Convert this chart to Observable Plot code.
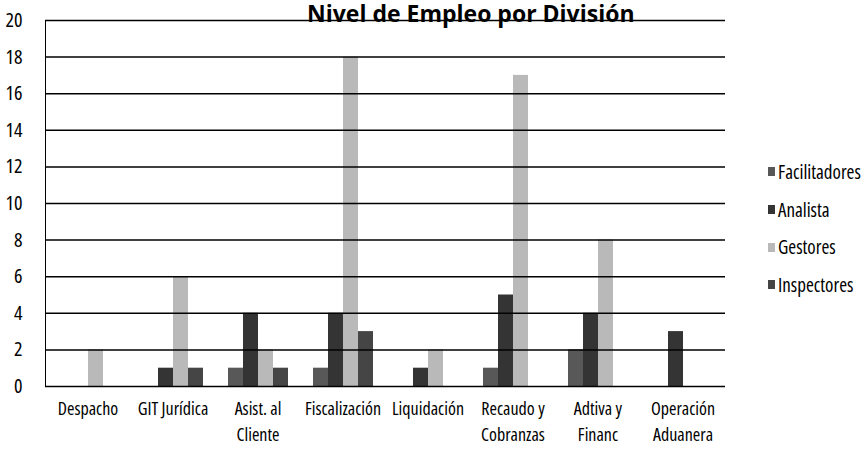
<!DOCTYPE html>
<html><head><meta charset="utf-8">
<script src="https://cdn.jsdelivr.net/npm/d3@7"></script>
<script src="https://cdn.jsdelivr.net/npm/@observablehq/plot@0.6"></script>
<style>
body{margin:0;background:#fff;}
#wrap{position:relative;width:865px;height:471px;overflow:hidden;font-family:"Open Sans",sans-serif;font-stretch:80%;}
#title{position:absolute;left:307px;top:2px;font-size:23px;font-weight:bold;line-height:1;color:#000;white-space:nowrap;font-stretch:88%;}
#legend{position:absolute;left:768px;top:153px;font-size:19px;color:#000;}
#legend .item{height:37.7px;display:flex;align-items:center;line-height:24px;}
#legend .sw{width:7px;height:9px;margin-right:3px;}
</style></head><body>
<div id="wrap"><div id="chart"></div><div id="title">Nivel de Empleo por División</div><div id="legend"></div></div>
<script>
const categories = ["Despacho","GIT Jurídica","Asist. al Cliente","Fiscalización","Liquidación","Recaudo y Cobranzas","Adtiva y Financ","Operación Aduanera"];
const categoryLabels = ["Despacho","GIT Jurídica","Asist. al\nCliente","Fiscalización","Liquidación","Recaudo y\nCobranzas","Adtiva y\nFinanc","Operación\nAduanera"];
const series = ["Facilitadores","Analista","Gestores","Inspectores"];
const facilitadores = [0,0,1,1,0,1,2,0];
const analista      = [0,1,4,4,1,5,4,3];
const gestores      = [2,6,2,18,2,17,8,0];
const inspectores   = [0,1,1,3,0,0,0,0];
const yTicks = [0,2,4,6,8,10,12,14,16,18,20];
const colors = ["#585858","#343434","#b9b9b9","#454545"];

const valuesBySeries = [facilitadores, analista, gestores, inspectores];
const rows = [];
categories.forEach((c,i)=>series.forEach((s,j)=>rows.push({category:c, series:s, value:valuesBySeries[j][i]})));
const labelOf = new Map(categories.map((c,i)=>[c,categoryLabels[i]]));

const chart = Plot.plot({
  width: 730, height: 471,
  marginLeft: 45, marginRight: 5, marginTop: 20, marginBottom: 85,
  style: {fontFamily: '"Open Sans",sans-serif', fontStretch: "80%", background: "#fff", color: "#000"},
  fx: {domain: categories, padding: 0},
  x: {domain: series, paddingInner: 0, paddingOuter: 0.83, axis: null},
  y: {domain: [0,20], axis: null},
  color: {domain: series, range: colors},
  marks: [
    Plot.barY(rows, {fx: "category", x: "series", y: "value", fill: "series"}),
    Plot.ruleY(yTicks, {stroke: "#000", strokeWidth: 1.5}),
    Plot.frame({anchor: "left", stroke: "#000", strokeWidth: 1, facet: "super"}),
    Plot.axisY({ticks: yTicks, tickSize: 0, tickPadding: 23, fontSize: 20, label: null, style: {fontStretch: "75%"}}),
    Plot.axisFx({anchor: "bottom", tickSize: 0, tickPadding: 11, fontSize: 18, lineHeight: 1.4, label: null, tickFormat: d => labelOf.get(d)})
  ]
});
document.getElementById("chart").appendChild(chart);

const legend = document.getElementById("legend");
series.forEach((s,j)=>{
  const it = document.createElement("div"); it.className = "item";
  const sw = document.createElement("div"); sw.className = "sw"; sw.style.background = colors[j];
  const tx = document.createElement("span"); tx.textContent = s;
  it.appendChild(sw); it.appendChild(tx); legend.appendChild(it);
});
</script>
</body></html>
